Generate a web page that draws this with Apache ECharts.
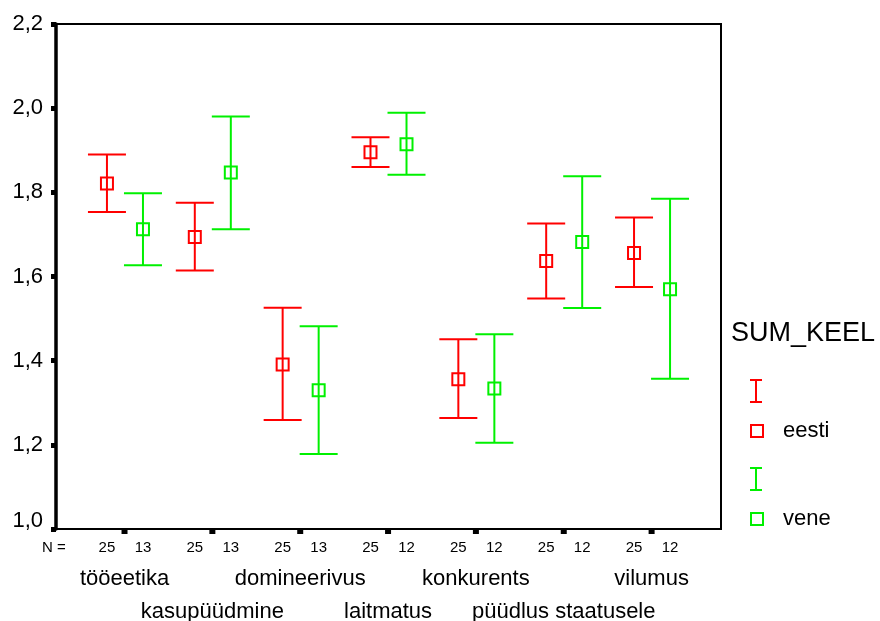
<!DOCTYPE html>
<html><head><meta charset="utf-8">
<script src="https://cdn.jsdelivr.net/npm/echarts@6/dist/echarts.min.js"></script>
<style>html,body{margin:0;padding:0;background:#fff}#c{width:880px;height:621px}</style>
</head><body><div id="c"></div>
<script>
const categories = ['tööeetika','kasupüüdmine','domineerivus','laitmatus','konkurents','püüdlus staatusele','vilumus'];
const eestiMean = [1.821,1.694,1.391,1.895,1.356,1.637,1.656];
const eestiLow  = [1.753,1.614,1.259,1.860,1.264,1.548,1.575];
const eestiHigh = [1.890,1.775,1.526,1.931,1.451,1.726,1.740];
const veneMean  = [1.712,1.847,1.330,1.914,1.334,1.682,1.570];
const veneLow   = [1.627,1.712,1.178,1.842,1.205,1.525,1.357];
const veneHigh  = [1.798,1.980,1.482,1.989,1.463,1.838,1.785];
const eestiN = [25,25,25,25,25,25,25];
const veneN  = [13,13,13,12,12,12,12];

const FONT = '"Liberation Sans", Arial, sans-serif';
const RED = '#ff0000', GREEN = '#00f000';

function errSeries(name, color, offset, mean, low, high, ns) {
  return {
    type: 'custom', name: name, clip: false, z: 5,
    data: categories.map((c, i) => [i + 1 + offset, low[i], high[i], mean[i], ns[i]]),
    renderItem: function (params, api) {
      const x = api.value(0);
      const pLow = api.coord([x, api.value(1)]);
      const pHigh = api.coord([x, api.value(2)]);
      const pMean = api.coord([x, api.value(3)]);
      const pBase = api.coord([x, 1.0]);
      const hw = 19, s = 12;
      const ls = { stroke: color, lineWidth: 2 };
      return { type: 'group', children: [
        { type: 'line', shape: { x1: pLow[0], y1: pLow[1], x2: pHigh[0], y2: pHigh[1] }, style: ls },
        { type: 'line', shape: { x1: pLow[0]-hw, y1: pLow[1], x2: pLow[0]+hw, y2: pLow[1] }, style: ls },
        { type: 'line', shape: { x1: pHigh[0]-hw, y1: pHigh[1], x2: pHigh[0]+hw, y2: pHigh[1] }, style: ls },
        { type: 'rect', shape: { x: pMean[0]-s/2, y: pMean[1]-s/2, width: s, height: s }, style: { stroke: color, lineWidth: 2, fill: null } },
        { type: 'text', x: pBase[0], y: pBase[1] + 19, style: { text: String(api.value(4)), font: '15px ' + FONT, fill: '#000', align: 'center', verticalAlign: 'middle' } }
      ]};
    }
  };
}

const axisSeries = {
  type: 'custom', clip: false, z: 6, silent: true,
  data: categories.map((c, i) => [i + 1]),
  renderItem: function (params, api) {
    const i = params.dataIndex;
    const p = api.coord([api.value(0), 1.0]);
    const row = i % 2;
    return { type: 'group', children: [
      { type: 'rect', shape: { x: p[0]-3, y: p[1], width: 6, height: 5 }, style: { fill: '#000' } },
      { type: 'text', x: p[0], y: p[1] + 50 + row * 33, style: { text: categories[i], font: '22px ' + FONT, fill: '#000', align: 'center', verticalAlign: 'middle' } }
    ]};
  }
};

const chart = echarts.init(document.getElementById('c'));
chart.setOption({
  animation: false,
  backgroundColor: '#fff',
  grid: { left: 56, right: 159, top: 24, bottom: 92, show: true, borderColor: '#000', borderWidth: 2, backgroundColor: 'transparent' },
  xAxis: { type: 'value', min: 0.22, max: 7.79, axisLine: { show: false }, axisTick: { show: false }, axisLabel: { show: false }, splitLine: { show: false } },
  yAxis: {
    type: 'value', min: 1.0, max: 2.2, interval: 0.2,
    axisLine: { show: true, lineStyle: { color: '#000', width: 3.5 } },
    axisTick: { show: true, length: 5, lineStyle: { color: '#000', width: 5 } },
    axisLabel: {
      margin: 13, color: '#000', fontSize: 22, fontFamily: FONT,
      formatter: v => { const t = v.toFixed(1).replace('.', ','); return Math.abs(v - 1.0) < 1e-9 ? '{b|' + t + '}' : t; },
      rich: { b: { fontSize: 22, fontFamily: FONT, color: '#000', padding: [0, 0, 16, 0] } }
    },
    splitLine: { show: false }
  },
  series: [
    errSeries('eesti', RED, -0.2, eestiMean, eestiLow, eestiHigh, eestiN),
    errSeries('vene', GREEN, 0.21, veneMean, veneLow, veneHigh, veneN),
    axisSeries
  ],
  graphic: [
    { type: 'text', left: 42, top: 540, style: { text: 'N =', font: '15px ' + FONT, fill: '#000' } },
    { type: 'text', x: 731, y: 334, style: { text: 'SUM_KEEL', font: '27px ' + FONT, fill: '#000', verticalAlign: 'middle' } },
    { type: 'line', shape: { x1: 756, y1: 380, x2: 756, y2: 402 }, style: { stroke: RED, lineWidth: 2 } },
    { type: 'line', shape: { x1: 750, y1: 380, x2: 762, y2: 380 }, style: { stroke: RED, lineWidth: 2 } },
    { type: 'line', shape: { x1: 750, y1: 402, x2: 762, y2: 402 }, style: { stroke: RED, lineWidth: 2 } },
    { type: 'rect', shape: { x: 751, y: 425, width: 12, height: 12 }, style: { stroke: RED, lineWidth: 2, fill: null } },
    { type: 'text', x: 783, y: 431, style: { text: 'eesti', font: '22px ' + FONT, fill: '#000', verticalAlign: 'middle' } },
    { type: 'line', shape: { x1: 756, y1: 468, x2: 756, y2: 490 }, style: { stroke: GREEN, lineWidth: 2 } },
    { type: 'line', shape: { x1: 750, y1: 468, x2: 762, y2: 468 }, style: { stroke: GREEN, lineWidth: 2 } },
    { type: 'line', shape: { x1: 750, y1: 490, x2: 762, y2: 490 }, style: { stroke: GREEN, lineWidth: 2 } },
    { type: 'rect', shape: { x: 751, y: 513, width: 12, height: 12 }, style: { stroke: GREEN, lineWidth: 2, fill: null } },
    { type: 'text', x: 783, y: 519, style: { text: 'vene', font: '22px ' + FONT, fill: '#000', verticalAlign: 'middle' } }
  ]
});
</script></body></html>
